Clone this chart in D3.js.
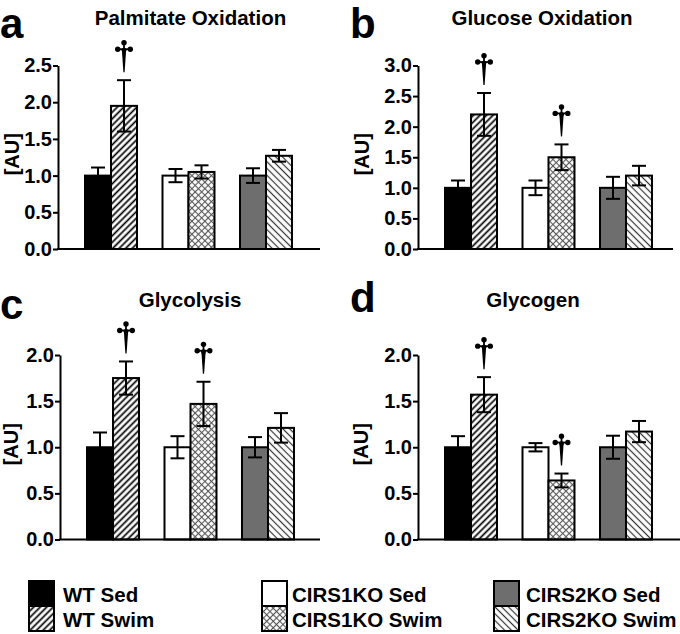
<!DOCTYPE html>
<html>
<head>
<meta charset="utf-8">
<script src="https://cdn.jsdelivr.net/npm/d3@7/dist/d3.min.js"></script>
<style>
  html, body { margin: 0; padding: 0; background: #fff; }
  svg { display: block; }
  text { font-family: "Liberation Sans", Arial, Helvetica, sans-serif; font-weight: bold; fill: #000; }
</style>
</head>
<body>
<svg id="chart" width="680" height="634"></svg>
<script>
// ---------------- data ----------------
const categories = ["WT Sed", "WT Swim", "CIRS1KO Sed", "CIRS1KO Swim", "CIRS2KO Sed", "CIRS2KO Swim"];
const groups = ["WT", "CIRS1KO", "CIRS2KO"];
const conditions = ["Sed", "Swim"];

const panelLetters = ["a", "b", "c", "d"];
const panelTitles = ["Palmitate Oxidation", "Glucose Oxidation", "Glycolysis", "Glycogen"];
const yLabel = "[AU]";

const palmitateMeans = [1.00, 1.95, 1.00, 1.05, 1.00, 1.27];
const palmitateErr   = [0.11, 0.35, 0.09, 0.09, 0.10, 0.08];
const palmitateSig   = [0, 1, 0, 0, 0, 0];

const glucoseMeans = [1.00, 2.20, 1.00, 1.50, 1.00, 1.20];
const glucoseErr   = [0.12, 0.35, 0.12, 0.21, 0.18, 0.16];
const glucoseSig   = [0, 1, 0, 1, 0, 0];

const glycolysisMeans = [1.00, 1.75, 1.00, 1.47, 1.00, 1.21];
const glycolysisErr   = [0.16, 0.18, 0.12, 0.24, 0.11, 0.16];
const glycolysisSig   = [0, 1, 0, 1, 0, 0];

const glycogenMeans = [1.00, 1.57, 1.00, 0.64, 1.00, 1.17];
const glycogenErr   = [0.12, 0.19, 0.045, 0.075, 0.125, 0.115];
const glycogenSig   = [0, 1, 0, 1, 0, 0];

const yTickLabelsA = ["0.0", "0.5", "1.0", "1.5", "2.0", "2.5"];
const yTickLabelsB = ["0.0", "0.5", "1.0", "1.5", "2.0", "2.5", "3.0"];
const yTickLabelsC = ["0.0", "0.5", "1.0", "1.5", "2.0"];
const yTickLabelsD = ["0.0", "0.5", "1.0", "1.5", "2.0"];

// ---------------- layout / style ----------------
const layout = [
  { x0: 58,  axisEnd: 320, base: 249,   top: 65.5, letterX: 0,   letterY: 38,    titleX: 190.5, titleY: 24.5, labX: 19 },
  { x0: 418, axisEnd: 673, base: 249,   top: 65.5, letterX: 350, letterY: 38,    titleX: 542,   titleY: 24.5, labX: 369 },
  { x0: 60,  axisEnd: 320, base: 539.5, top: 355,  letterX: 0,   letterY: 318.5, titleX: 190,   titleY: 306.5, labX: 18 },
  { x0: 418, axisEnd: 680, base: 539.5, top: 355,  letterX: 350, letterY: 312,   titleX: 533,   titleY: 306.5, labX: 368 }
];
const plotW = 261;
const fills = ["#000", "url(#hatchFwd)", "#fff", "url(#crossHatch)", "#6e6e6e", "url(#hatchBack)"];

const panels = [
  { means: palmitateMeans, err: palmitateErr, sig: palmitateSig, ticks: yTickLabelsA },
  { means: glucoseMeans, err: glucoseErr, sig: glucoseSig, ticks: yTickLabelsB },
  { means: glycolysisMeans, err: glycolysisErr, sig: glycolysisSig, ticks: yTickLabelsC },
  { means: glycogenMeans, err: glycogenErr, sig: glycogenSig, ticks: yTickLabelsD }
];

const svg = d3.select("#chart");

// patterns
const defs = svg.append("defs");
const pf = defs.append("pattern").attr("id", "hatchFwd").attr("patternUnits", "userSpaceOnUse")
  .attr("width", 4.6).attr("height", 4.6).attr("patternTransform", "rotate(45)");
pf.append("rect").attr("width", 4.6).attr("height", 4.6).attr("fill", "#fff");
pf.append("line").attr("x1", 2.3).attr("y1", 0).attr("x2", 2.3).attr("y2", 4.6).attr("stroke", "#000").attr("stroke-width", 1.7);

const pb = defs.append("pattern").attr("id", "hatchBack").attr("patternUnits", "userSpaceOnUse")
  .attr("width", 4.8).attr("height", 4.8).attr("patternTransform", "rotate(-45)");
pb.append("rect").attr("width", 4.8).attr("height", 4.8).attr("fill", "#fff");
pb.append("line").attr("x1", 2.4).attr("y1", 0).attr("x2", 2.4).attr("y2", 4.8).attr("stroke", "#333").attr("stroke-width", 1.2);

const pc = defs.append("pattern").attr("id", "crossHatch").attr("patternUnits", "userSpaceOnUse")
  .attr("width", 4.6).attr("height", 4.6).attr("patternTransform", "rotate(45)");
pc.append("rect").attr("width", 4.6).attr("height", 4.6).attr("fill", "#fff");
pc.append("line").attr("x1", 2.3).attr("y1", 0).attr("x2", 2.3).attr("y2", 4.6).attr("stroke", "#555").attr("stroke-width", 1.1);
pc.append("line").attr("x1", 0).attr("y1", 2.3).attr("x2", 4.6).attr("y2", 2.3).attr("stroke", "#555").attr("stroke-width", 1.1);

function dagger(g, cx, bottom) {
  const h = 32, top = bottom - h, cy = top + 9;
  const d = g.append("g");
  d.append("path")
    .attr("d", `M${cx - 2.2},${cy} L${cx + 2.2},${cy} L${cx + 0.6},${bottom} L${cx - 0.6},${bottom} Z`)
    .attr("fill", "#000");
  d.append("line").attr("x1", cx - 6.5).attr("x2", cx + 6.5).attr("y1", cy).attr("y2", cy)
    .attr("stroke", "#000").attr("stroke-width", 1.8);
  d.append("line").attr("x1", cx).attr("x2", cx).attr("y1", top + 2).attr("y2", cy)
    .attr("stroke", "#000").attr("stroke-width", 1.8);
  d.append("circle").attr("cx", cx).attr("cy", top + 2.6).attr("r", 2.7).attr("fill", "#000");
  d.append("circle").attr("cx", cx - 6.3).attr("cy", cy).attr("r", 2.7).attr("fill", "#000");
  d.append("circle").attr("cx", cx + 6.3).attr("cy", cy).attr("r", 2.7).attr("fill", "#000");
  d.append("circle").attr("cx", cx).attr("cy", cy + 1).attr("r", 2.4).attr("fill", "#000");
}

panels.forEach((p, i) => {
  const L = layout[i];
  const g = svg.append("g");
  const yMax = +p.ticks[p.ticks.length - 1];
  const y = d3.scaleLinear().domain([0, yMax]).range([L.base, L.top]);
  const xg = d3.scalePoint().domain(groups).range([L.x0, L.x0 + plotW]).padding(0.684);
  const xs = d3.scaleBand().domain(conditions).range([-26, 26]).padding(0);

  const data = categories.map((c, k) => ({
    cat: c, group: groups[Math.floor(k / 2)], cond: conditions[k % 2],
    mean: p.means[k], err: p.err[k], sig: p.sig[k], fill: fills[k]
  }));

  // bars
  g.selectAll("rect.bar").data(data).enter().append("rect")
    .attr("class", "bar")
    .attr("x", d => xg(d.group) + xs(d.cond))
    .attr("width", xs.bandwidth())
    .attr("y", d => y(d.mean))
    .attr("height", d => y(0) - y(d.mean))
    .attr("fill", d => d.fill)
    .attr("stroke", "#000").attr("stroke-width", 2);

  // error bars
  const eb = g.selectAll("g.err").data(data).enter().append("g").attr("class", "err")
    .attr("stroke", "#000").attr("stroke-width", 2);
  const cxOf = d => xg(d.group) + xs(d.cond) + xs.bandwidth() / 2;
  eb.append("line").attr("x1", cxOf).attr("x2", cxOf)
    .attr("y1", d => y(d.mean - d.err)).attr("y2", d => y(d.mean + d.err));
  eb.append("line").attr("x1", d => cxOf(d) - 7).attr("x2", d => cxOf(d) + 7)
    .attr("y1", d => y(d.mean + d.err)).attr("y2", d => y(d.mean + d.err));
  eb.append("line").attr("x1", d => cxOf(d) - 7).attr("x2", d => cxOf(d) + 7)
    .attr("y1", d => y(d.mean - d.err)).attr("y2", d => y(d.mean - d.err));

  // daggers
  data.filter(d => d.sig).forEach(d => dagger(g, cxOf(d), y(d.mean + d.err) - 8));

  // y axis
  const yAxis = d3.axisLeft(y).tickValues(p.ticks.map(Number))
    .tickFormat((v, k) => p.ticks[k]).tickSize(5).tickSizeOuter(0).tickPadding(1);
  const ya = g.append("g").attr("transform", `translate(${L.x0},0)`).call(yAxis);
  ya.select(".domain").attr("stroke", "#000").attr("stroke-width", 2);
  ya.selectAll(".tick line").attr("stroke", "#000").attr("stroke-width", 2);
  ya.selectAll(".tick text").style("font-size", "20px").style("font-weight", "bold")
    .style("font-family", "'Liberation Sans', Arial, sans-serif").attr("fill", "#000");

  // x axis line
  g.append("line").attr("x1", L.x0 - 1).attr("x2", L.axisEnd).attr("y1", L.base).attr("y2", L.base)
    .attr("stroke", "#000").attr("stroke-width", 2);

  // y label
  g.append("text").attr("transform", `translate(${L.labX},${(L.base + L.top) / 2 - 3}) rotate(-90)`)
    .attr("text-anchor", "middle").style("font-size", "20px").text(yLabel);

  // title
  g.append("text").attr("x", L.titleX).attr("y", L.titleY).attr("text-anchor", "middle")
    .style("font-size", "20.5px").text(panelTitles[i]);

  // letter
  g.append("text").attr("x", L.letterX).attr("y", L.letterY)
    .style("font-size", "42px").text(panelLetters[i]);
});

// legend
const legendCols = [29, 262, 494];
const legendTextX = [63, 292, 526];
const lg = svg.append("g");
categories.forEach((c, k) => {
  const col = Math.floor(k / 2), row = k % 2;
  lg.append("rect").attr("x", legendCols[col]).attr("y", 581 + row * 25)
    .attr("width", 25).attr("height", 25)
    .attr("fill", fills[k]).attr("stroke", "#000").attr("stroke-width", 2);
  lg.append("text").attr("x", legendTextX[col]).attr("y", 601.5 + row * 25.5)
    .style("font-size", "20.5px").text(c);
});
</script>
</body>
</html>
